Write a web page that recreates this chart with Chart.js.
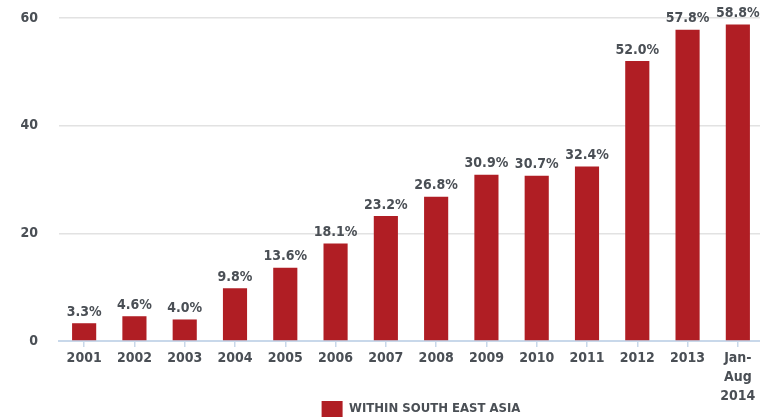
<!DOCTYPE html>
<html>
<head>
<meta charset="utf-8">
<script src="https://cdn.jsdelivr.net/npm/chart.js@4"></script>
<style>
html,body{margin:0;padding:0;background:#fff;overflow:hidden;}
#wrap{width:763px;height:418px;position:relative;}
</style>
</head>
<body>
<div id="wrap"><canvas id="c"></canvas></div>
<script>
const categories = ['2001','2002','2003','2004','2005','2006','2007','2008','2009','2010','2011','2012','2013',['Jan-','Aug','2014']];
const values = [3.3,4.6,4.0,9.8,13.6,18.1,23.2,26.8,30.9,30.7,32.4,52.0,57.8,58.8];
const seriesName = 'WITHIN SOUTH EAST ASIA';
const yTicks = [0,20,40,60];

const FONT = "'DejaVu Sans Condensed', 'DejaVu Sans', sans-serif";
const TEXT = '#4a4f55';
const RED = '#b01e24';

const labelPlugin = {
  id: 'valueLabels',
  afterLayout(chart) {
    const lg = chart.legend;
    if (lg) { lg.left += 10; lg.right += 10; lg.top += 9; lg.bottom += 9; }
    const xs = chart.scales.x;
    if (xs) { xs.bottom += 20; }
  },
  afterDatasetsDraw(chart) {
    const ctx = chart.ctx;
    const meta = chart.getDatasetMeta(0);
    ctx.save();
    ctx.font = 'bold 14px ' + FONT;
    ctx.fillStyle = TEXT;
    ctx.textAlign = 'center';
    ctx.textBaseline = 'bottom';
    meta.data.forEach((bar, i) => {
      ctx.fillText(values[i].toFixed(1) + '%', bar.x, bar.y - 4);
    });
    ctx.restore();
  }
};

new Chart(document.getElementById('c'), {
  type: 'bar',
  data: {
    labels: categories,
    datasets: [{
      label: seriesName,
      data: values,
      backgroundColor: RED,
      borderWidth: 0,
      categoryPercentage: 1,
      barPercentage: 0.48
    }]
  },
  options: {
    responsive: true,
    maintainAspectRatio: false,
    animation: false,
    layout: { padding: { top: 18, right: 0, bottom: 0, left: 0 } },
    plugins: {
      legend: {
        position: 'bottom',
        fullSize: false,
        labels: {
          boxWidth: 21,
          boxHeight: 16,
          padding: 0,
          color: TEXT,
          font: { family: FONT, size: 13, weight: 'bold' }
        }
      },
      tooltip: { enabled: false }
    },
    scales: {
      x: {
        afterFit(scale) { scale.height = 51; scale.paddingTop = 0; scale.paddingBottom = 0; },
        grid: {
          offset: false,
          drawOnChartArea: false,
          drawTicks: true,
          tickLength: 6,
          color: '#c8d8ea',
          lineWidth: 1.5
        },
        border: { display: true, color: '#c8d8ea', width: 2 },
        ticks: {
          color: TEXT,
          padding: 2,
          maxRotation: 0,
          autoSkip: false,
          font: { family: FONT, size: 14, weight: 'bold', lineHeight: 1.36 }
        }
      },
      y: {
        min: 0,
        max: 60,
        afterFit(scale) { scale.width = 59; scale.paddingTop = 0; scale.paddingBottom = 0; },
        afterBuildTicks(scale) { scale.ticks = yTicks.map(v => ({ value: v })); },
        grid: {
          drawTicks: false,
          color: (c) => c.tick && c.tick.value === 0 ? 'rgba(0,0,0,0)' : '#e2e2e2',
          lineWidth: 1.5
        },
        border: { display: false },
        ticks: {
          color: TEXT,
          padding: 21,
          font: { family: FONT, size: 14, weight: 'bold' }
        }
      }
    }
  },
  plugins: [labelPlugin]
});
</script>
</body>
</html>
